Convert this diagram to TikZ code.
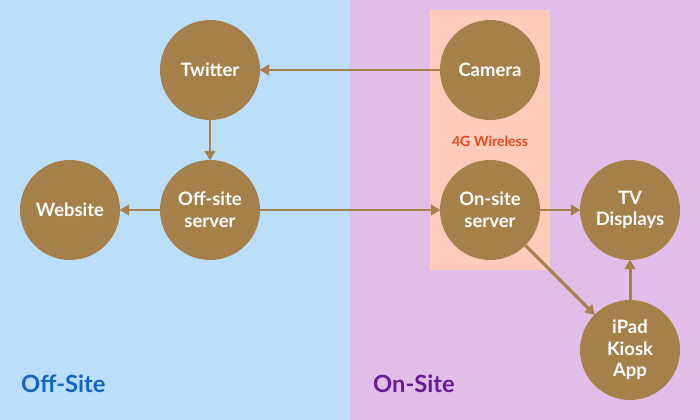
\documentclass[tikz,border=0pt]{standalone}
\usepackage{fontspec}
\setmainfont{Lato}
\usetikzlibrary{arrows.meta}
\definecolor{offbg}{HTML}{BBDEFA}
\definecolor{onbg}{HTML}{E1BEE7}
\definecolor{netbox}{HTML}{FFCCBC}
\definecolor{hubfill}{HTML}{A6804A}
\definecolor{netred}{HTML}{E64A19}
\definecolor{offblue}{HTML}{1565C0}
\definecolor{onpurple}{HTML}{6A1B9A}
\tikzset{
  hub/.style={circle,fill=hubfill,minimum size=2cm,inner sep=0pt,align=center,
    text=white,font=\fontsize{10.5}{12.3}\selectfont\bfseries},
  link/.style={draw=hubfill,line width=1.7pt,-{Triangle[length=5.5pt,width=6pt]},shorten >=-0.5pt}
}
\begin{document}
\begin{tikzpicture}[scale=1]
    \fill[offbg] (0,0) rectangle (7,8.4);
    \fill[onbg] (7,0) rectangle (14,8.4);
    \fill[netbox] (8.6,3.0) rectangle (11.0,8.2);
    \node[hub](twitter) at (4.2,7.0) {Twitter};
    \node[hub](camera) at (9.8,7.0) {Camera};
    \node[hub](website) at (1.4,4.2) {Website};
    \node[hub](offsrv) at (4.2,4.2) {Off-site\\server};
    \node[hub](onsrv) at (9.8,4.2) {On-site\\server};
    \node[hub](tv) at (12.6,4.2) {TV\\Displays};
    \node[hub](ipad) at (12.6,1.4) {iPad\\Kiosk\\App};
    \node[text=netred,font=\fontsize{8}{9}\selectfont\bfseries](wireless) at (9.8,5.58) {4G Wireless};
    \node[anchor=west,text=offblue,font=\fontsize{13.5}{16}\selectfont\bfseries](offlbl) at (0.3,0.72) {Off-Site};
    \node[anchor=west,text=onpurple,font=\fontsize{13.5}{16}\selectfont\bfseries](onlbl) at (7.34,0.72) {On-Site};
    \draw[link] (camera)--(twitter);
    \draw[link] (twitter)--(offsrv);
    \draw[link] (offsrv)--(website);
    \draw[link] (offsrv)--(onsrv);
    \draw[link] (onsrv)--(tv);
    \draw[link] (onsrv)--(ipad);
    \draw[link] (ipad)--(tv);
    \end{tikzpicture}
\end{document}
